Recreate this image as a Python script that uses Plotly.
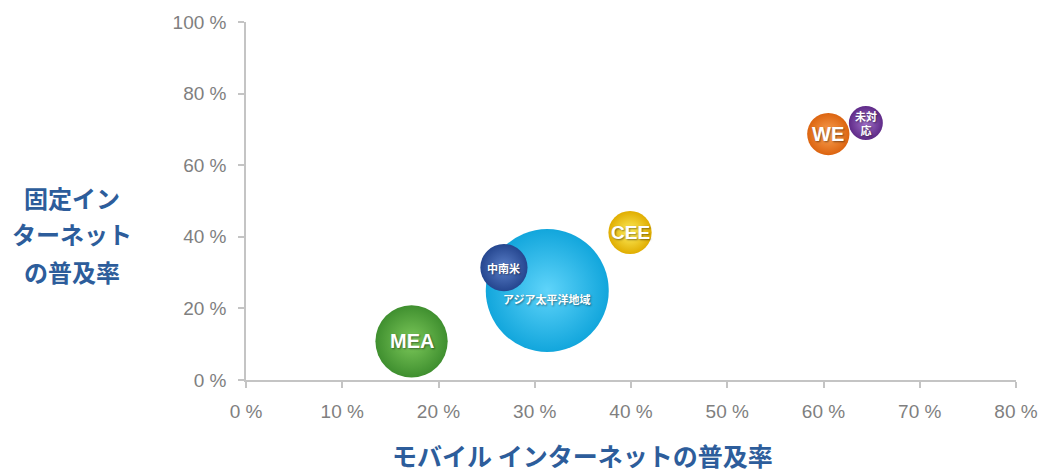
import plotly.graph_objects as go

# Data
regions = ["MEA", "アジア太平洋地域", "中南米", "CEE", "WE", "未対応"]
labels = ["MEA", "アジア太平洋地域", "中南米", "CEE", "WE", "未対<br>応"]
mobile_pct = [17.2, 31.3, 26.8, 39.9, 60.5, 64.4]      # x: モバイル インターネットの普及率
fixed_pct = [10.8, 25.0, 31.4, 41.2, 68.7, 71.8]       # y: 固定インターネットの普及率
bubble_share = [19.0, 55.0, 8.1, 6.8, 6.5, 4.2]        # relative bubble size (area)

x_ticks = [0, 10, 20, 30, 40, 50, 60, 70, 80]
y_ticks = [0, 20, 40, 60, 80, 100]
y_title_lines = ["固定イン", "ターネット", "の普及率"]
x_title = "モバイル インターネットの普及率"

# Styles
edge_colors = ["#3f8f2f", "#12a6dc", "#25468f", "#e0ad00", "#dc6410", "#5f2a88"]
center_colors = ["#7cc85a", "#5fd4fa", "#5a7fc8", "#fff060", "#fba455", "#a070c8"]
label_sizes = [20, 11, 11, 19, 20, 11]
label_fonts = ["Liberation Sans", "Noto Sans CJK JP", "Noto Sans CJK JP",
               "Liberation Sans", "Liberation Sans", "Noto Sans CJK JP"]
label_yshift = [0, -8, 0, 0, 0, 0]

max_diam = 123
sizeref = 2.0 * max(bubble_share) / (max_diam ** 2)

fig = go.Figure()
for i in range(len(regions)):
    fig.add_trace(go.Scatter(
        x=[mobile_pct[i]], y=[fixed_pct[i]], mode="markers",
        name=regions[i],
        marker=dict(size=[bubble_share[i]], sizemode="area", sizeref=sizeref,
                    color=edge_colors[i],
                    gradient=dict(type="radial", color=center_colors[i]),
                    line=dict(width=0), opacity=1),
        hoverinfo="name", showlegend=False, cliponaxis=False,
    ))

for i in range(len(regions)):
    fig.add_annotation(
        x=mobile_pct[i], y=fixed_pct[i], text="<b>" + labels[i] + "</b>",
        showarrow=False, yshift=label_yshift[i],
        font=dict(family=label_fonts[i], size=label_sizes[i],
                  color="white", shadow="1px 1px 2px rgba(0,0,0,0.45)"),
    )

tick_font = dict(family="Liberation Sans, Arial", size=19, color="#7f7f7f")
title_color = "#2d5d9b"

fig.update_xaxes(
    range=[0, 80], tickvals=x_ticks, ticktext=[f"{v} %" for v in x_ticks],
    showgrid=False, zeroline=False, showline=True, linecolor="#c4c4c4", linewidth=1.5,
    ticks="outside", ticklen=6, tickcolor="#c4c4c4", tickwidth=1.5,
    tickfont=tick_font, ticklabelstandoff=7, automargin=False,
)
fig.update_yaxes(
    range=[0, 100], tickvals=y_ticks, ticktext=[f"{v} %" for v in y_ticks],
    showgrid=False, zeroline=False, showline=True, linecolor="#c4c4c4", linewidth=1.5,
    ticks="outside", ticklen=6, tickcolor="#c4c4c4", tickwidth=1.5,
    tickfont=tick_font, ticklabelstandoff=8, automargin=False,
)

fig.add_annotation(
    xref="paper", yref="paper", x=(582 - 246) / 770, y=-(455 - 380) / 358,
    text="<b>" + x_title + "</b>", showarrow=False,
    font=dict(family="Noto Sans CJK JP, sans-serif", size=25, color=title_color),
    xanchor="center", yanchor="middle",
)
for j, line in enumerate(y_title_lines):
    fig.add_annotation(
        xref="paper", yref="paper", x=(72 - 246) / 770, y=(380 - (197 + 37 * j)) / 358,
        text="<b>" + line + "</b>", showarrow=False,
        font=dict(family="Noto Sans CJK JP, sans-serif", size=24, color=title_color),
        xanchor="center", yanchor="middle",
    )

fig.update_layout(
    width=1047, height=473,
    margin=dict(l=246, r=31, t=22, b=93),
    paper_bgcolor="white", plot_bgcolor="white",
)

fig.write_html("out.html")
